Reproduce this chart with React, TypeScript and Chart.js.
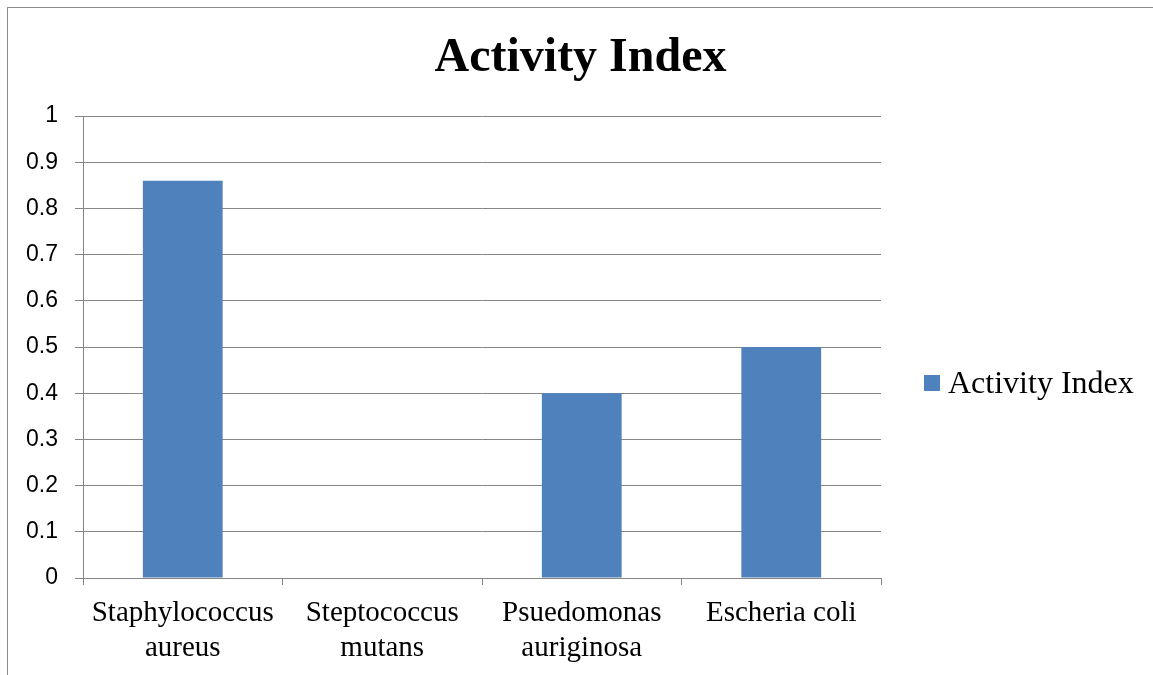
import React, { useEffect, useRef } from "react";
import { Chart, registerables } from "chart.js";

Chart.register(...registerables);

const chartTitle = "Activity Index";
const seriesLabel = "Activity Index";
const categories: string[][] = [
  ["Staphylococcus", "aureus"],
  ["Steptococcus", "mutans"],
  ["Psuedomonas", "auriginosa"],
  ["Escheria coli"],
];
const activityIndex: number[] = [0.86, 0, 0.4, 0.5];
const yMin = 0;
const yMax = 1;
const yStep = 0.1;

const BAR_COLOR = "#4f81bd";
const GRID_COLOR = "#868686";
const SERIF = "'Liberation Serif', 'Times New Roman', serif";
const SANS = "'Liberation Sans', Arial, sans-serif";

const sideLegend = {
  id: "sideLegend",
  afterDraw(chart: any) {
    const { ctx, chartArea } = chart;
    const ds = chart.data.datasets[0];
    const x = chartArea.right + 43;
    const top = (chartArea.top + chartArea.bottom) / 2 + 28;
    ctx.save();
    ctx.fillStyle = ds.backgroundColor;
    ctx.fillRect(x, top, 16, 16);
    ctx.fillStyle = "#000";
    ctx.font = `32px ${SERIF}`;
    ctx.textBaseline = "alphabetic";
    ctx.textAlign = "left";
    ctx.fillText(ds.label, x + 24, top + 18);
    ctx.restore();
  },
};

export default function App() {
  const ref = useRef<HTMLCanvasElement | null>(null);

  useEffect(() => {
    if (!ref.current) return;
    const chart = new Chart(ref.current, {
      type: "bar",
      data: {
        labels: categories,
        datasets: [
          {
            label: seriesLabel,
            data: activityIndex,
            backgroundColor: BAR_COLOR,
            borderWidth: 0,
            barPercentage: 0.4,
            categoryPercentage: 1,
            yAxisID: "y",
          },
        ],
      },
      options: {
        responsive: false,
        animation: false,
        layout: { padding: { left: 0, right: 0, top: 0, bottom: 0 } },
        plugins: {
          legend: { display: false },
          tooltip: { enabled: false },
          title: {
            display: true,
            text: chartTitle,
            color: "#000",
            font: { family: SERIF, size: 48, weight: "bold", lineHeight: 1.2 },
            padding: { top: 22, bottom: 28.4 },
          },
        },
        scales: {
          x: {
            offset: true,
            grid: {
              offset: true,
              drawOnChartArea: false,
              drawTicks: true,
              tickLength: 7,
              color: GRID_COLOR,
            },
            border: { display: true, color: GRID_COLOR, width: 1 },
            ticks: {
              color: "#000",
              font: { family: SERIF, size: 29, lineHeight: 1.2 },
              padding: 11,
              maxRotation: 0,
              autoSkip: false,
            },
            afterFit: (scale: any) => {
              scale.height = 97;
            },
          },
          y: {
            min: yMin,
            max: yMax,
            grid: {
              color: GRID_COLOR,
              drawTicks: true,
              tickLength: 8,
            },
            border: { display: true, color: GRID_COLOR, width: 1 },
            ticks: {
              stepSize: yStep,
              color: "#000",
              font: { family: SANS, size: 23 },
              padding: 17,
              callback: (v: any) => String(Math.round(Number(v) * 10) / 10),
            },
            afterFit: (scale: any) => {
              scale.width = 75;
            },
          },
          legendSpace: {
            type: "linear",
            position: "right",
            display: true,
            grid: { display: false, drawTicks: false },
            border: { display: false },
            ticks: { display: false },
            afterFit: (scale: any) => {
              scale.width = 272;
            },
          },
        },
      },
      plugins: [sideLegend],
    });
    return () => chart.destroy();
  }, []);

  return (
    <div
      style={{
        position: "fixed",
        left: 7,
        top: 7,
        right: 0,
        bottom: 0,
        borderLeft: "1px solid #8c8c8c",
        borderTop: "1px solid #8c8c8c",
        background: "#fff",
        overflow: "hidden",
      }}
    >
      <canvas ref={ref} width={1145} height={667} style={{ display: "block" }} />
    </div>
  );
}
